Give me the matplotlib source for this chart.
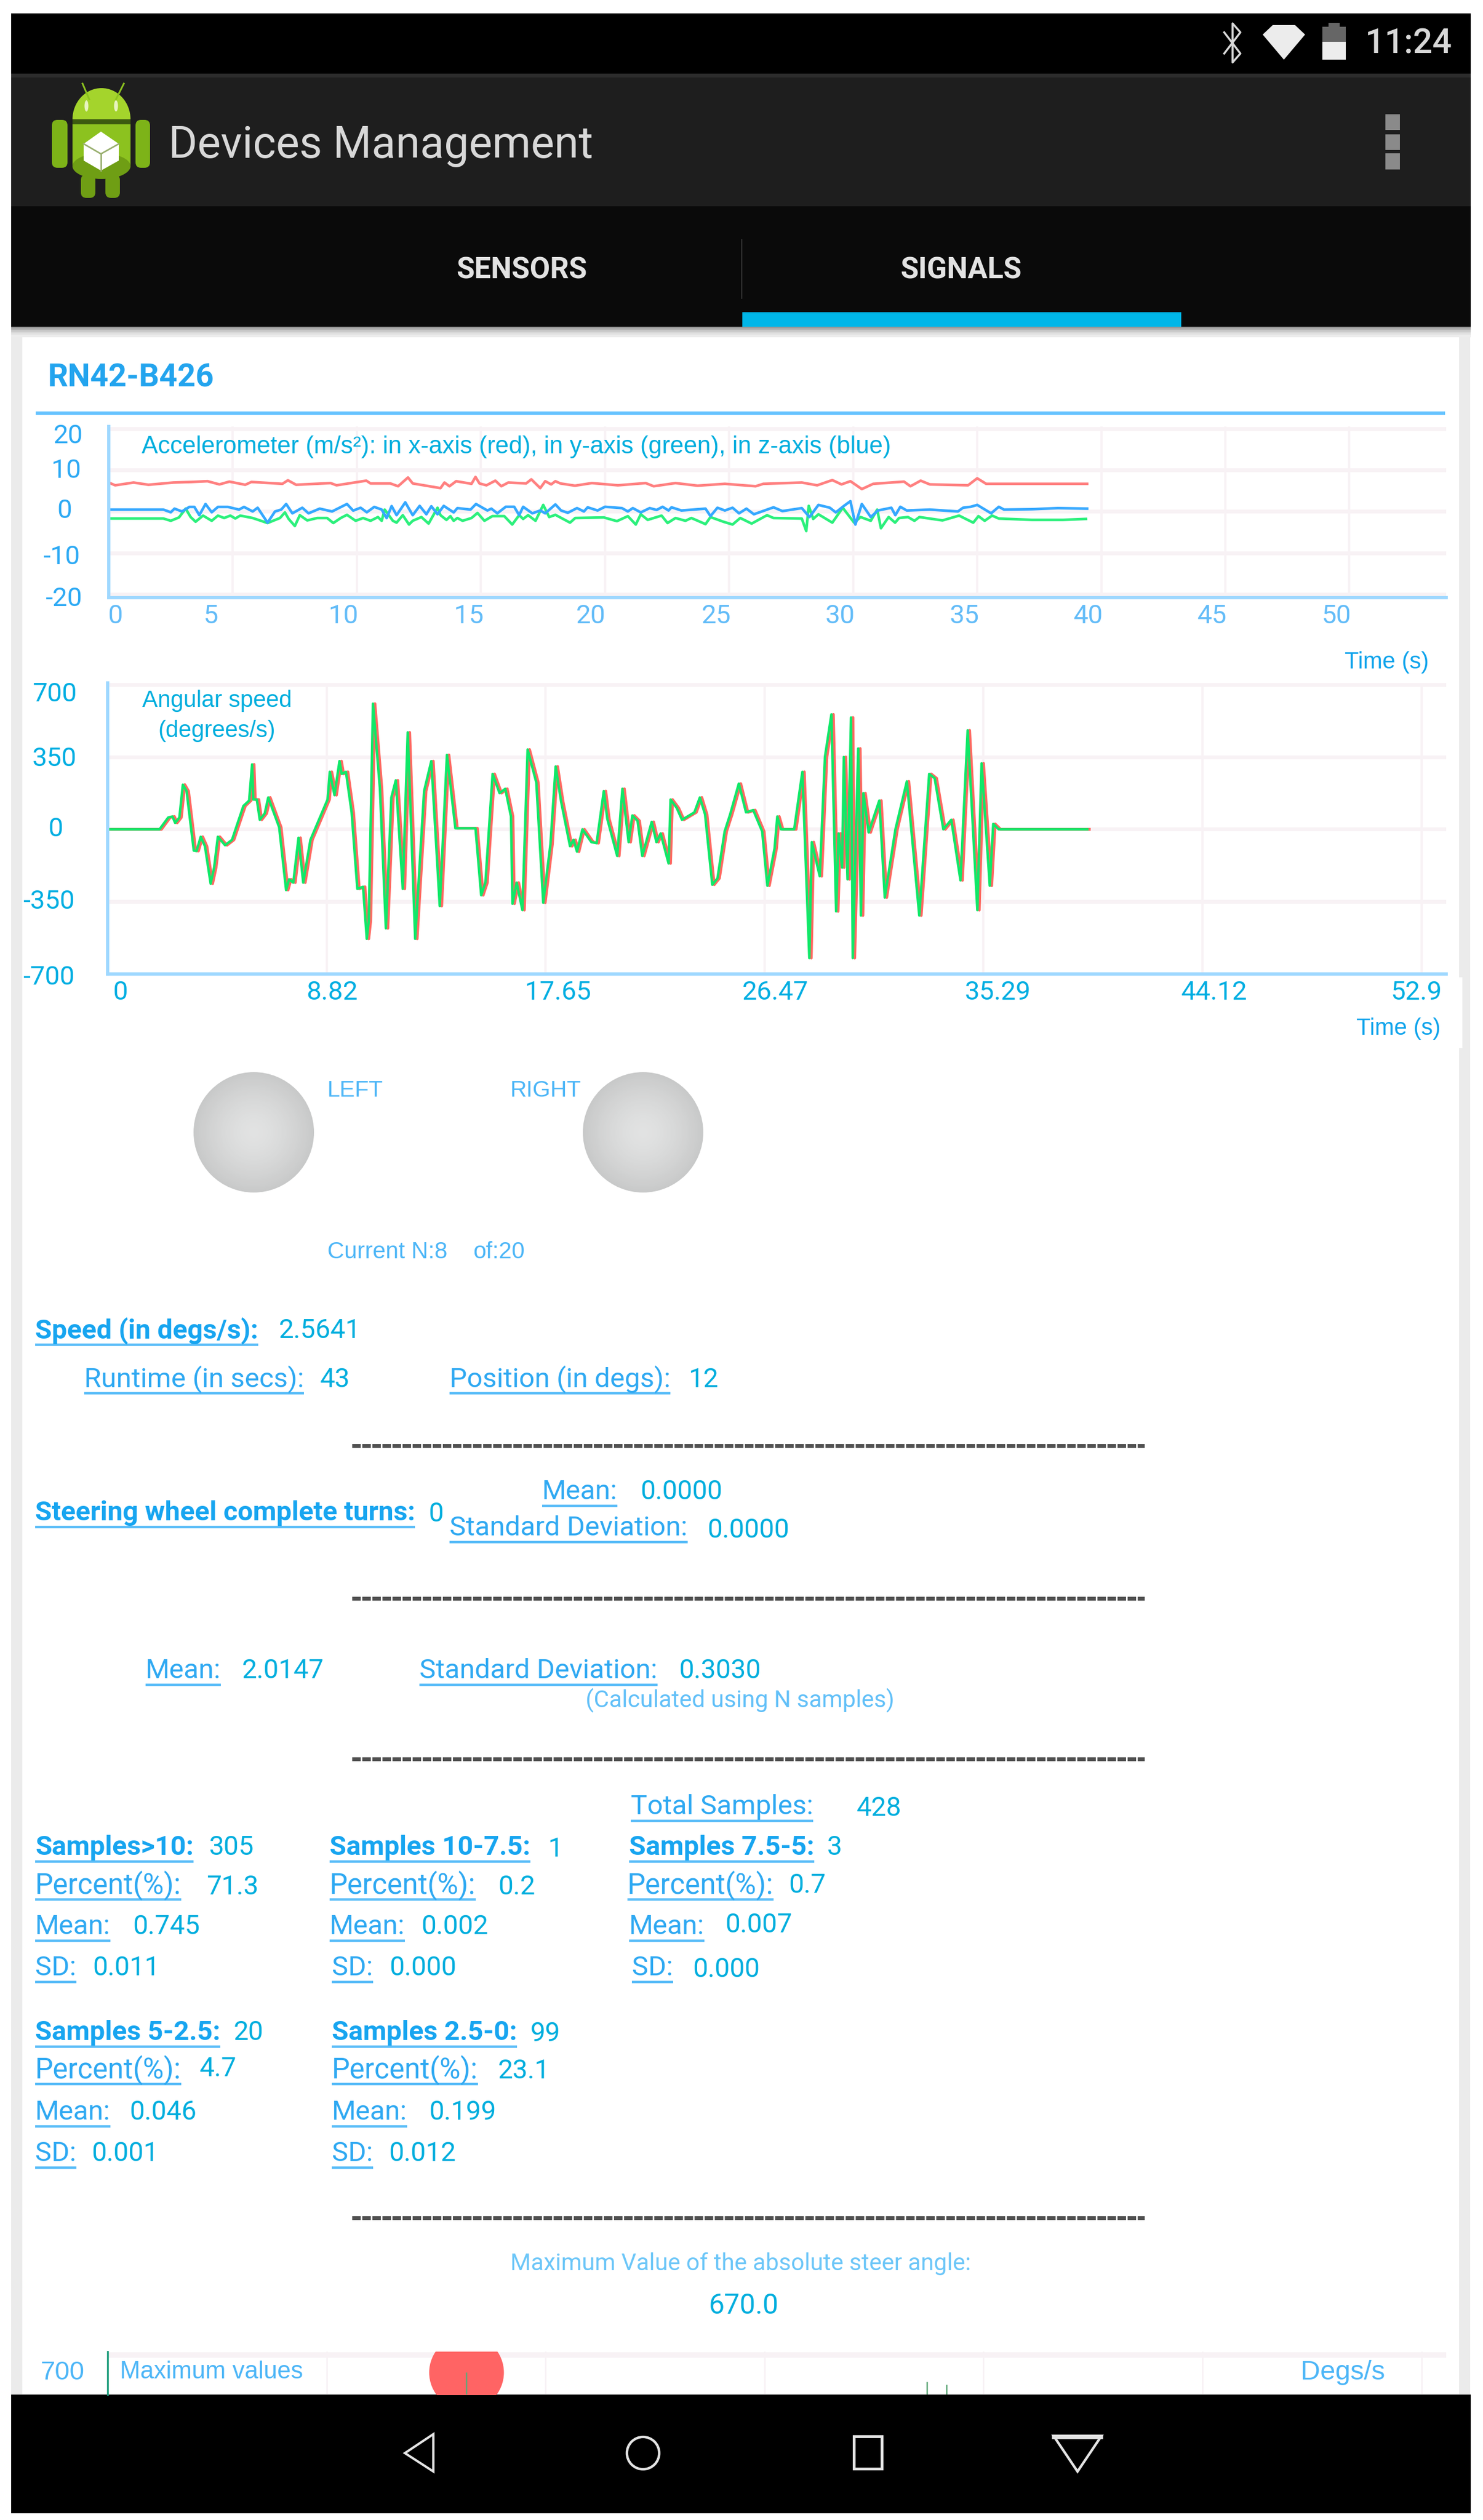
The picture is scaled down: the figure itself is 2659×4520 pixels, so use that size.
import numpy as np
import matplotlib
matplotlib.use("Agg")
import matplotlib.pyplot as plt
from matplotlib.patches import Rectangle, Circle, Ellipse, Polygon, FancyBboxPatch
from matplotlib.transforms import Affine2D

plt.rcParams['font.family'] = ['Roboto', 'Liberation Sans', 'DejaVu Sans']

# --- chart data ---
accel_red_t = [0, .26, 1.0, 1.6, 2.6, 3.34, 3.98, 4.46, 4.86, 5.5, 5.75, 7.0, 7.22, 7.55, 8.94, 9.18, 10.38,
               10.55, 11.35, 11.66, 12.06, 12.25, 13.37, 13.53, 13.73, 14.0, 14.62, 14.78, 14.94, 15.22, 15.58,
               15.82, 16.1, 16.82, 17.03, 17.39, 17.59, 17.83, 18.0, 18.2, 18.79, 19.47, 20.52, 21.64, 21.96,
               22.84, 23.73, 24.83, 26.07, 26.38, 27.93, 28.55, 29.16, 29.53, 29.89, 30.35, 30.81, 32.05, 32.31,
               32.72, 33.09, 34.63, 35.0, 35.36, 39.43]
accel_red_v = [6.98, 6.31, 6.98, 6.44, 6.98, 7.12, 7.3, 6.53, 7.2, 6.44, 7.12, 6.67, 7.52, 6.44, 6.85, 6.31, 7.43,
               6.76, 6.76, 6.08, 8.2, 6.76, 5.63, 6.98, 6.08, 7.3, 6.67, 8.33, 6.76, 6.31, 7.43,
               6.08, 6.98, 6.76, 7.75, 5.63, 7.3, 6.53, 7.3, 6.76, 6.22, 6.85, 6.31, 6.85, 6.08,
               6.85, 6.22, 6.67, 6.08, 6.67, 6.98, 6.31, 7.57, 6.53, 7.3, 5.4, 6.67, 7.2, 6.08,
               7.43, 6.53, 6.31, 8.0, 6.67, 6.67]

accel_blue_t = [0, 2.2, 2.5, 2.65, 2.95, 3.25, 3.45, 3.65, 3.9, 4.15, 4.4, 4.8, 5.25, 5.45, 5.8, 6.0, 6.4, 6.7, 6.95,
                7.15, 7.4, 7.8, 8.05, 8.5, 9.0, 9.6, 9.85, 10.15, 10.4, 10.7, 11.0, 11.2, 11.4, 11.6, 11.95, 12.25,
                12.53, 12.8, 13.0, 13.25, 13.5, 13.9, 14.05, 14.58, 14.8, 15.26, 15.42, 15.66, 16.0, 16.34, 16.54,
                16.7, 17.07, 17.39, 17.59, 18.0, 18.23, 18.5, 18.87, 19.15, 19.3, 19.7, 20.0, 20.68, 20.92, 21.12,
                21.44, 21.8, 22.08, 22.32, 22.56, 22.68, 23.08, 24.05, 24.25, 24.53, 24.83, 25.14, 25.4, 25.7, 26.0,
                26.79, 27.15, 27.93, 28.24, 28.6, 29.06, 29.3, 29.63, 29.89, 30.09, 30.35, 30.71, 31.0, 31.54, 31.7,
                31.9, 32.16, 33.09, 34.22, 34.43, 34.74, 35.0, 35.56, 35.87, 36.08, 37.21, 38.25, 39.43]
accel_blue_v = [.45, .45, -.2, .68, 0, 1.1, 1.1, -.9, 1.8, -.2, 1.1, 1.1, .45, 1.1, 0, .9, -2.7, 0, .45,
                1.8, -.45, .9, -.45, .68, 0, 1.8, .2, .9, -.2, 1.1, .45, -1.6, 1.3, -.9, 2.2, -.9,
                1.35, -.68, 1.26, -.68, 1.35, -.23, .81, .45, 1.8, .23, .68, -.45, 1.13, 1.13, -.9,
                1.13, -.45, .23, -.45, 1.7, .23, -.32, .81, 0, 1.0, .23, 1.13, .81, 0, .81,
                -.23, .81, .36, 1.13, .23, 1.0, .23, .68, -1.13, .9, .23, .9, -.45, .68, -.68,
                1.0, .09, .81, -1.35, 1.58, .9, -.23, 1.35, 2.48, -3.15, 1.8, -1.35, .23, .9, -.9,
                1.13, .23, .45, 0, .9, 1.13, 1.58, -.45, 1.13, .45, .54, .81, .68]

accel_green_t = [0, 2.2, 2.5, 2.83, 3.1, 3.3, 3.5, 3.8, 4.15, 4.4, 4.65, 4.9, 5.1, 5.3, 5.8, 6.4, 6.9, 7.1, 7.25, 7.5, 7.7,
                 8.0, 8.4, 8.8, 9.05, 9.35, 9.6, 9.95, 10.25, 10.55, 10.85, 11.0, 11.12, 11.45, 11.6, 11.85, 12.1,
                 12.25, 12.6, 12.89, 13.25, 13.37, 13.61, 13.77, 13.9, 14.05, 14.26, 14.62, 14.86, 15.14, 15.46, 15.94,
                 16.26, 16.54, 16.7, 16.9, 17.2, 17.51, 17.75, 18.0, 18.59, 18.8, 19.95, 20.48, 20.92, 21.24, 21.44,
                 21.72, 22.28, 22.52, 22.84, 23.24, 23.48, 24.05, 24.25, 24.77, 25.14, 25.45, 25.91, 26.53, 26.79,
                 27.93, 28.11, 28.21, 28.39, 28.6, 29.16, 29.58, 30.04, 30.3, 30.71, 30.97, 31.12, 31.43, 31.69, 31.85,
                 32.21, 32.47, 32.67, 33.6, 34.27, 34.84, 35.05, 35.3, 35.6, 35.87, 37.21, 38.45, 39.38]
accel_green_v = [-1.7, -1.7, -2.25, -1.44, .68, -1.35, -2.48, -1.0, -2.25, -1.0, -1.58, -1.0, -1.7, -1.0, -1.58, -2.79, -1.58, -.23, -1.8, -3.51, -.9,
                 -2.16, -1.58, -1.58, -2.79, -1.58, -.81, -2.25, -1.58, -2.25, -1.35, -2.25, .45, -2.25, -2.7, -.9, -3.15,
                 -2.25, -1.35, -2.93, .9, -.9, -2.03, -1.13, -2.25, -1.58, -2.25, -1.58, -.36, -2.25, -1.13, -1.13,
                 -3.15, -.9, -1.8, -.9, -2.25, 1.58, -1.35, -.81, -2.7, -1.58, -1.44, -2.34, -1.13, -3.15, -.68,
                 -2.03, -1.0, -2.79, -1.58, -2.25, -1.58, -3.06, -1.35, -2.48, -3.15, -1.58, -2.93, -.9, -1.58,
                 -1.71, -4.73, 1.35, -1.8, -.68, -2.7, .9, -2.7, -1.35, -2.25, .45, -4.05, -1.35, -2.7, -1.58,
                 -1.35, -2.25, -1.35, -2.16, -1.0, -2.7, -1.13, -2.25, -1.0, -1.71, -2.03, -2.03, -1.8]

angular_t = [0, 2.12, 2.47, 2.64, 2.75, 2.92, 3.06, 3.21, 3.5, 3.61, 3.78, 3.95, 4.18, 4.32, 4.47, 4.76, 5.04, 5.5,
             5.73, 5.85, 5.9, 6.04, 6.16, 6.36, 6.5, 6.94, 7.22, 7.34, 7.51, 7.72, 7.91, 8.2, 8.89, 8.98, 9.17, 9.37,
             9.46, 9.63, 9.86, 10.09, 10.32, 10.47, 10.55, 10.72, 11.0, 11.24, 11.46, 11.64, 11.92, 12.12, 12.42,
             12.78, 13.07, 13.41, 13.7, 14.04, 14.85, 15.08, 15.25, 15.54, 15.82, 16.05, 16.28, 16.34, 16.51, 16.74,
             16.95, 17.3, 17.58, 17.87, 18.08, 18.3, 18.66, 18.8, 18.94, 19.16, 19.52, 19.73, 20.02, 20.16, 20.56,
             20.77, 21.02, 21.17, 21.38, 21.57, 21.95, 22.14, 22.31, 22.63, 22.71, 22.96, 23.17, 23.67, 23.89, 24.1,
             24.39, 24.6, 24.89, 25.11, 25.46, 25.75, 26.04, 26.4, 26.61, 26.9, 27.01, 27.16, 27.69, 28.02, 28.3,
             28.4, 28.72, 28.93, 29.19, 29.38, 29.48, 29.62, 29.69, 29.84, 29.98, 30.05, 30.27, 30.38, 30.48, 30.69,
             31.12, 31.34, 31.77, 32.23, 32.73, 33.13, 33.35, 33.7, 34.02, 34.39, 34.68, 35.07, 35.24, 35.57, 35.71,
             35.93, 39.5]
angular_v = [0, 0, 57, 62, 31, 57, 216, 185, -103, -105, -36, -82, -263, -185, -36, -77, -51, 113,
             139, 314, 144, 144, 46, 77, 154, 10, -294, -242, -258, -41, -258, -51, 144, 278, 165, 330,
             268, 278, 82, -288, -278, -530, -443, 608, 196, -479, 154, 237, -288, 469, -530,
             185, 330, -371, 360, 5, 5, -319, -258, 268, 175, 196, 62, -360, -258, -391,
             386, 227, -355, -72, 304, 134, -82, -51, -108, 0, -62, -67, 185, 51, -129,
             196, -62, 67, 41, -129, 36, -62, -20, -165, 144, 103, 46, 82, 154, 72,
             -268, -237, -10, 72, 221, 82, 93, -10, -273, -93, 62, 0, 0, 278, -623,
             -62, -227, 350, 556, -397, -20, -185, 350, -242, 541, -623, 391, -417, 175, -15,
             139, -330, 0, 232, -417, 268, 247, 0, 46, -247, 479, -391, 319, -273, 26,
             0, 0]

max_t = [14.45, 33.0, 33.8]
max_v = [611, 560, 545]

accel_xticks = [0, 5, 10, 15, 20, 25, 30, 35, 40, 45, 50]
accel_yticks = [20, 10, 0, -10, -20]
angular_xticks = [0, 8.82, 17.65, 26.47, 35.29, 44.12, 52.94]
angular_xlabels = ['0', '8.82', '17.65', '26.47', '35.29', '44.12', '52.9']
angular_yticks = [700, 350, 0, -350, -700]

AXIS_BLUE = '#9fd8ff'
GRID = '#f8f2f5'
LABEL = '#2fa9f2'
VALUE = '#00aede'
PALE = '#4db6f7'
W, H = 2659, 4520
NAV_TOP = 4295


def box(x0, y0, x1, y1, color, **kw):
    bg.add_patch(Rectangle((x0, y0), x1 - x0, y1 - y0, fc=color, ec='none', **kw))


def txt(x, y, s, size=34.5, color=VALUE, ha='left', weight='normal', family='Roboto', on=None):
    return (on or bg).text(x, y, s, fontsize=size, color=color, ha=ha, va='center', fontweight=weight,
                           family=[family, 'Liberation Sans', 'DejaVu Sans'])


def link(x, y, s, bold=False, size=None):
    # underlined label, like the android html links
    if size is None:
        size = 35 if bold else 35.5
    t = txt(x, y, s, size=size, color='#17a5f0' if bold else LABEL, weight='bold' if bold else 'normal')
    ext = t.get_window_extent(fig.canvas.get_renderer())
    bg.plot([ext.x0, ext.x1], [y + 25, y + 25], color='#58bcf8', lw=3.2, solid_capstyle='butt')


def shift(lbl, dx, dy):
    # px on screen, dy counted downwards
    lbl.set_transform(lbl.get_transform() + Affine2D().translate(dx, -dy))


def style_axes(ax, xticks, yticks, xlabels, xoff, ylab_pos):
    ax.patch.set_alpha(0)
    for s in ['top', 'right']:
        ax.spines[s].set_visible(False)
    for s in ['left', 'bottom']:
        ax.spines[s].set_color(AXIS_BLUE)
        ax.spines[s].set_linewidth(4.2)
    ax.set_xticks(xticks, xlabels)
    ax.set_yticks(yticks, [str(v) for v in yticks])
    ax.grid(axis='y', color=GRID, lw=5)
    ax.grid(axis='x', color=GRID, lw=3)
    ax.set_axisbelow(True)
    ax.tick_params(length=0, pad=24, axis='x')
    ax.tick_params(length=0, pad=0, axis='y')
    for lbl, dx in zip(ax.get_xticklabels(), xoff):
        lbl.set_va('center')
        lbl.set_fontsize(34)
        shift(lbl, dx, 0)
    for lbl, (dx, dy) in zip(ax.get_yticklabels(), ylab_pos):
        lbl.set_ha('center')
        lbl.set_va('center')
        lbl.set_fontsize(34)
        shift(lbl, dx, dy)


fig = plt.figure(figsize=(W / 100, H / 100), dpi=100, facecolor='white')
bg = fig.add_axes([0, 0, 1, 1])
bg.set_xlim(0, W)
bg.set_ylim(H, 0)
bg.axis('off')
# second full size layer, texts that sit on top of the chart grids
fg = fig.add_axes([0, 0, 1, 1], zorder=10)
fg.set_xlim(0, W)
fg.set_ylim(H, 0)
fg.axis('off')

# --- screen chrome ---
box(20, 24, 2637, 132, '#000000')
box(20, 132, 2637, 370, '#1e1e1e')
box(20, 132, 2637, 139, '#2c2c2c')
box(20, 370, 2637, 586, '#0a0a0a')
box(1331, 560, 2118, 586, '#00b6e8')
box(1329, 429, 1331, 536, '#333333')
for i, c in enumerate(['#9a9a9a', '#b4b4b4', '#c8c8c8', '#d8d8d8', '#e4e4e4', '#ececec']):
    box(20, 586 + i * 3, 2637, 590 + i * 3, c)
box(20, 604, 40, NAV_TOP, '#ebebeb')
box(2616, 604, 2636, NAV_TOP, '#ebebeb')
box(1700, 1753, 2622, 1880, '#ffffff')

# status icons
bg.plot([2195, 2224, 2210, 2210, 2224, 2195], [58, 96, 112, 42, 58, 96], color='#d8d8d8', lw=2.6)
bg.add_patch(Polygon([(2264, 62), (2282, 45), (2322, 45), (2340, 62), (2302, 107)], fc='#ececec', ec='none'))
box(2371, 48, 2413, 75, '#666666')
box(2382, 41, 2402, 48, '#666666')
box(2371, 75, 2413, 107, '#ececec')
txt(2525, 79, '11:24', size=44, color='#d8d8d8', ha='center', weight='medium')

# app icon
GREEN = '#8cc21f'
bg.plot([148, 160], [150, 178], color=GREEN, lw=2.2)
bg.plot([222, 208], [150, 178], color=GREEN, lw=2.2)
bg.add_patch(Ellipse((182, 214), 104, 112, fc='#a4d42c', ec='none'))
box(130, 214, 234, 223, '#3c5a10')
box(130, 223, 234, 300, GREEN)
bg.add_patch(Ellipse((182, 298), 104, 46, fc='#6f9e14', ec='none'))
bg.add_patch(FancyBboxPatch((96, 218), 22, 80, boxstyle='round,pad=3,rounding_size=10', fc='#7db318', ec='none'))
bg.add_patch(FancyBboxPatch((246, 218), 20, 80, boxstyle='round,pad=3,rounding_size=10', fc='#7db318', ec='none'))
bg.add_patch(FancyBboxPatch((148, 316), 20, 36, boxstyle='round,pad=3,rounding_size=10', fc='#6f9e14', ec='none'))
bg.add_patch(FancyBboxPatch((192, 316), 20, 36, boxstyle='round,pad=3,rounding_size=10', fc='#6f9e14', ec='none'))
bg.add_patch(Polygon([(181, 236), (213, 258), (213, 288), (181, 306), (150, 288), (150, 258)], fc='white', ec='none'))
bg.plot([150, 181, 213], [258, 276, 258], color='#9ab070', lw=2)
bg.plot([181, 181], [276, 306], color='#9ab070', lw=2)
bg.add_patch(Ellipse((155, 190), 7, 20, fc='#e8f4c0', ec='none'))
bg.add_patch(Ellipse((208, 190), 7, 20, fc='#e8f4c0', ec='none'))

txt(302, 262, 'Devices Management', size=57, color='#d8d8d8')
for y0, y1 in [(205, 233), (241, 269), (275, 304)]:
    box(2484, y0, 2510, y1, '#8a8a8a')

txt(935, 485, 'SENSORS', size=38, color='#e2e2e2', ha='center', weight='bold')
txt(1723, 485, 'SIGNALS', size=38, color='#e2e2e2', ha='center', weight='bold')

txt(85, 678, 'RN42-B426', size=41, color='#23a4ee', weight='bold')
box(64, 738, 2591, 744, '#63c2ff')

# --- accelerometer chart ---
ax1 = fig.add_axes([195 / W, 1 - 1072 / H, (2593 - 195) / W, (1072 - 765) / H])
ax1.plot(accel_red_t, accel_red_v, color='#ff8080', lw=3.4)
ax1.plot(accel_green_t, accel_green_v, color='#2cf07c', lw=3.4)
ax1.plot(accel_blue_t, accel_blue_v, color='#35a8ff', lw=3.4)
ax1.set_xlim(0, 53.9)
ax1.set_ylim(-20.8, 20.5)
style_axes(ax1, accel_xticks, accel_yticks, [str(v) for v in accel_xticks],
           [12, -40, -24, -22, -25, -23, -23, -23, -23, -24, -24],
           [(-73, 13), (-76, 1), (-79, -1), (-85, 7), (-81, 8)])
for lbl in ax1.get_xticklabels():
    lbl.set_color('#63bcf8')
for lbl in ax1.get_yticklabels():
    lbl.set_color('#2eaaf4')
txt(254, 802, 'Accelerometer (m/s²): in x-axis (red), in y-axis (green), in z-axis (blue)', size=31.4,
    family='Liberation Sans', on=fg)
txt(2486, 1188, 'Time (s)', size=30, color='#10a4ec', ha='center', family='Liberation Sans')

# --- angular speed chart ---
ax2 = fig.add_axes([193 / W, 1 - 1747 / H, (2593 - 193) / W, (1747 - 1225) / H])
# both traces lie almost on each other, the red one a bit later
ax2.plot(np.array(angular_t) + 0.05, angular_v, color='#ff6a62', lw=3.6)
ax2.plot(np.array(angular_t) - 0.03, angular_v, color='#10e868', lw=3.2)
ax2.set_xlim(0, 53.93)
ax2.set_ylim(-700, 708)
style_axes(ax2, angular_xticks, angular_yticks, angular_xlabels,
           [23, 10, 22, 19, 26, 21, -9],
           [(-95, 17), (-95, 3), (-93, 0), (-106, 0), (-106, 6)])
for lbl in ax2.get_xticklabels() + ax2.get_yticklabels():
    lbl.set_color('#00aee2')
txt(389, 1257, 'Angular speed', size=30, ha='center', family='Liberation Sans', on=fg)
txt(389, 1311, '(degrees/s)', size=30, ha='center', family='Liberation Sans', on=fg)
txt(2507, 1845, 'Time (s)', size=30, color='#10a4ec', ha='center', family='Liberation Sans')

# --- left / right lamps ---
for cx in [455, 1153]:
    for r in np.linspace(108, 4, 40):
        f = r / 108
        g = 0.885 - 0.10 * f ** 1.5
        bg.add_patch(Circle((cx, 2031), r, fc=(g, g + .003, g + .003), ec='none'))
txt(587, 1956, 'LEFT', size=29.5, color=PALE, family='Liberation Sans')
txt(915, 1956, 'RIGHT', size=29.5, color=PALE, family='Liberation Sans')
txt(587, 2246, 'Current N:8', size=30, color=PALE, family='Liberation Sans')
txt(848, 2246, 'of:20', size=30, color=PALE, family='Liberation Sans')

# --- readings ---
link(63, 2387, 'Speed (in degs/s):', bold=True)
txt(500, 2387, '2.5641')
link(151, 2474, 'Runtime (in secs):')
txt(574, 2475, '43')
link(806, 2474, 'Position (in degs):')
txt(1234, 2475, '12')

link(63, 2714, 'Steering wheel complete turns:', bold=True)
txt(782, 2716, '0', ha='center')
link(972, 2676, 'Mean:')
txt(1148, 2676, '0.0000')
link(806, 2741, 'Standard Deviation:')
txt(1268, 2745, '0.0000')

link(261, 2997, 'Mean:')
txt(434, 2997, '2.0147')
link(752, 2997, 'Standard Deviation:')
txt(1217, 2997, '0.3030')
txt(1050, 3050, '(Calculated using N samples)', size=30.5, color='#62c0f8')

for y in [2593, 2867, 3155, 3978]:
    bg.plot([631, 2052], [y, y], color='#505050', lw=5, dashes=(2.2, 0.4))

link(1131, 3241, 'Total Samples:')
txt(1536, 3244, '428')

link(63, 3314, 'Samples>10:', bold=True)
txt(375, 3314, '305')
link(63, 3382, 'Percent(%):', size=37)
txt(370, 3385, '71.3')
link(63, 3456, 'Mean:')
txt(238, 3456, '0.745')
link(63, 3530, 'SD:')
txt(166, 3530, '0.011')

link(591, 3314, 'Samples 10-7.5:', bold=True)
txt(982, 3317, '1')
link(591, 3382, 'Percent(%):', size=37)
txt(893, 3385, '0.2')
link(591, 3456, 'Mean:')
txt(755, 3456, '0.002')
link(595, 3530, 'SD:')
txt(698, 3530, '0.000')

link(1128, 3314, 'Samples 7.5-5:', bold=True)
txt(1483, 3314, '3')
link(1125, 3382, 'Percent(%):', size=37)
txt(1414, 3382, '0.7')
link(1128, 3456, 'Mean:')
txt(1300, 3453, '0.007')
link(1133, 3530, 'SD:')
txt(1242, 3533, '0.000')

link(63, 3646, 'Samples 5-2.5:', bold=True)
txt(419, 3646, '20')
link(63, 3713, 'Percent(%):', size=37)
txt(358, 3711, '4.7')
link(63, 3789, 'Mean:')
txt(232, 3789, '0.046')
link(63, 3863, 'SD:')
txt(164, 3863, '0.001')

link(595, 3646, 'Samples 2.5-0:', bold=True)
txt(951, 3648, '99')
link(595, 3713, 'Percent(%):', size=37)
txt(893, 3715, '23.1')
link(595, 3789, 'Mean:')
txt(769, 3789, '0.199')
link(595, 3863, 'SD:')
txt(697, 3863, '0.012')

txt(1328, 4060, 'Maximum Value of the absolute steer angle:', size=30.4, color='#6cc6f8', ha='center')
txt(1333, 4136, '670.0', size=36, ha='center')

# --- maximum values chart, cut by the nav bar ---
ax3 = fig.add_axes([193 / W, 1 - NAV_TOP / H, (2593 - 193) / W, (NAV_TOP - 4218) / H])
ax3.patch.set_alpha(0)
ax3.set_xlim(0, 53.93)
ax3.set_ylim(700 - 77 / 0.371, 718)
ax3.set_xticks(angular_xticks[1:6] + [52.94], [''] * 6)
ax3.set_yticks([700], [''])
ax3.grid(axis='y', color=GRID, lw=7)
ax3.grid(axis='x', color=GRID, lw=2)
ax3.set_axisbelow(True)
ax3.tick_params(length=0)
for s in ['top', 'right', 'bottom']:
    ax3.spines[s].set_visible(False)
ax3.spines['left'].set_color('#1f9d7c')
ax3.spines['left'].set_linewidth(2.4)
ax3.scatter(max_t[:1], max_v[:1], s=(134 * 0.72) ** 2, color='#ff6464', zorder=3, lw=0)
ax3.vlines(max_t, 0, max_v, color='#5fa878', lw=1.8, zorder=4)
txt(112, 4256, '700', size=34, color=PALE, ha='center', family='Liberation Sans')
txt(215, 4255, 'Maximum values', size=31.5, color=PALE, family='Liberation Sans', on=fg)
txt(2332, 4256, 'Degs/s', size=35, color=PALE, family='Liberation Sans', on=fg)

# --- nav bar ---
box(20, NAV_TOP, 2637, 4508, '#000000')
bg.add_patch(Polygon([(777, 4366), (726, 4400), (777, 4433)], fc='none', ec='#e4e4e4', lw=3))
bg.add_patch(Circle((1153, 4400), 29, fc='none', ec='#e4e4e4', lw=3.2))
bg.add_patch(Rectangle((1531, 4370), 50, 58, fc='none', ec='#e4e4e4', lw=3.6))
bg.add_patch(Polygon([(1889, 4369), (1975, 4369), (1932, 4433)], fc='none', ec='#e4e4e4', lw=3.2))
bg.plot([1889, 1975], [4372, 4372], color='#e4e4e4', lw=4)

fig.savefig('out.png', dpi=100)
